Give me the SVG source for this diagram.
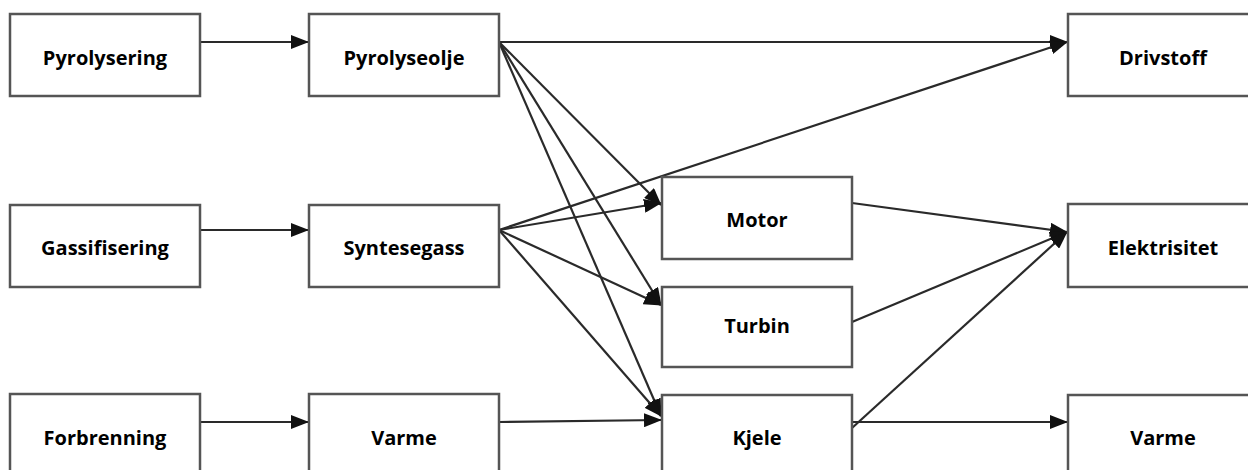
<svg xmlns="http://www.w3.org/2000/svg" width="1248" height="470" viewBox="0 0 1248 470">
<style>
.box{fill:#fff;stroke:#555;stroke-width:2.5}
.lbl{font-family:"Open Sans","Noto Sans",sans-serif;font-weight:700;font-size:20px;fill:#000;text-anchor:middle}
.c{stroke:#2a2a2a;stroke-width:2.2;fill:none;marker-end:url(#ah)}
</style>
<defs>
<marker id="ah" viewBox="0 0 18 14" refX="17" refY="7" markerWidth="18" markerHeight="14" markerUnits="userSpaceOnUse" orient="auto">
<path d="M0,0 L18,7 L0,14 Z" fill="#111"/>
</marker>
</defs>
<g id="connectors">
<line class="c" x1="200" y1="42" x2="308" y2="42"/>
<line class="c" x1="200" y1="230" x2="308" y2="230"/>
<line class="c" x1="200" y1="422" x2="308" y2="422"/>
<line class="c" x1="499" y1="42" x2="1067" y2="42"/>
<line class="c" x1="499" y1="42" x2="661" y2="205"/>
<line class="c" x1="499" y1="42" x2="661" y2="305"/>
<line class="c" x1="499" y1="42" x2="661" y2="416"/>
<line class="c" x1="499" y1="230" x2="1067" y2="42"/>
<line class="c" x1="499" y1="230" x2="661" y2="203"/>
<line class="c" x1="499" y1="230" x2="661" y2="305"/>
<line class="c" x1="499" y1="230" x2="661" y2="416"/>
<line class="c" x1="499" y1="422" x2="661" y2="420"/>
<line class="c" x1="852" y1="203" x2="1067" y2="232"/>
<line class="c" x1="852" y1="322" x2="1067" y2="232"/>
<line class="c" x1="852" y1="428" x2="1067" y2="232"/>
<line class="c" x1="852" y1="422" x2="1067" y2="422"/>
</g>
<g id="pyrolysering"><rect class="box" x="10" y="14" width="190" height="82"/><text class="lbl" x="105" y="65">Pyrolysering</text></g>
<g id="pyrolyseolje"><rect class="box" x="309" y="14" width="190" height="82"/><text class="lbl" x="404" y="65">Pyrolyseolje</text></g>
<g id="gassifisering"><rect class="box" x="10" y="205" width="190" height="82"/><text class="lbl" x="105" y="255">Gassifisering</text></g>
<g id="syntesegass"><rect class="box" x="309" y="205" width="190" height="82"/><text class="lbl" x="404" y="255">Syntesegass</text></g>
<g id="forbrenning"><rect class="box" x="10" y="394" width="190" height="82"/><text class="lbl" x="105" y="445">Forbrenning</text></g>
<g id="varme1"><rect class="box" x="309" y="394" width="190" height="82"/><text class="lbl" x="404" y="445">Varme</text></g>
<g id="motor"><rect class="box" x="662" y="177" width="190" height="82"/><text class="lbl" x="757" y="227">Motor</text></g>
<g id="turbin"><rect class="box" x="662" y="287" width="190" height="80"/><text class="lbl" x="757" y="333">Turbin</text></g>
<g id="kjele"><rect class="box" x="662" y="395" width="190" height="82"/><text class="lbl" x="757" y="445">Kjele</text></g>
<g id="drivstoff"><rect class="box" x="1068" y="14" width="190" height="82"/><text class="lbl" x="1163" y="65">Drivstoff</text></g>
<g id="elektrisitet"><rect class="box" x="1068" y="204" width="190" height="83"/><text class="lbl" x="1163" y="255">Elektrisitet</text></g>
<g id="varme2"><rect class="box" x="1068" y="395" width="190" height="82"/><text class="lbl" x="1163" y="445">Varme</text></g>
</svg>
